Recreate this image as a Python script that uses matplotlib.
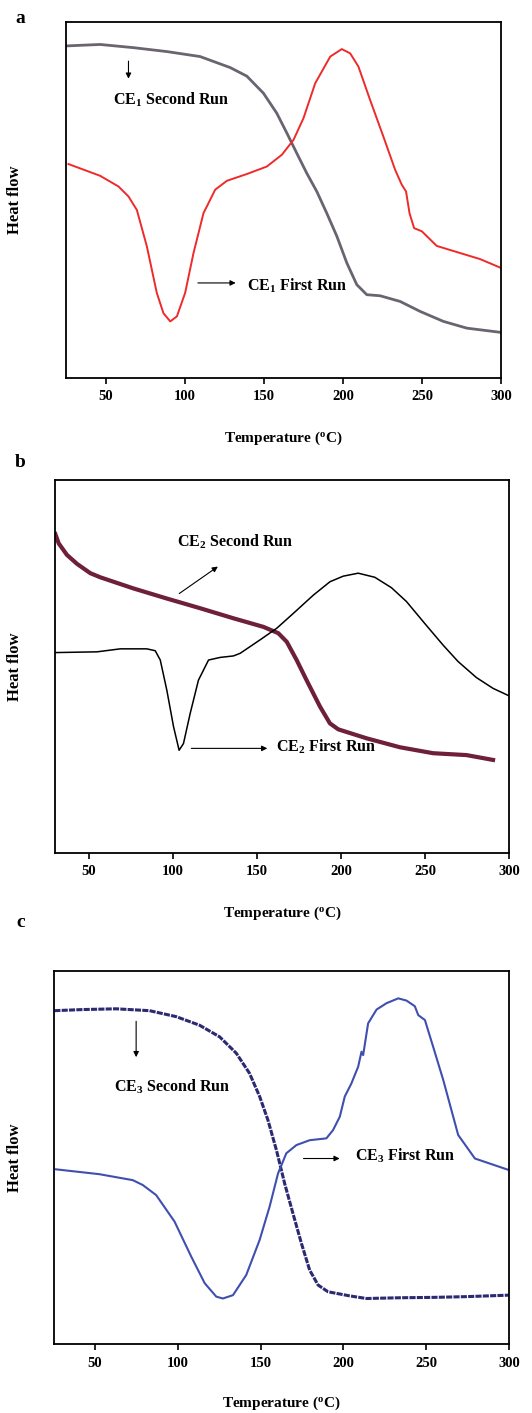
import matplotlib
matplotlib.use("Agg")
import matplotlib.pyplot as plt

plt.rcParams['font.family'] = ['Liberation Serif', 'DejaVu Serif']
plt.rcParams['font.weight'] = 'bold'
plt.rcParams['mathtext.fontset'] = 'custom'
plt.rcParams['mathtext.rm'] = 'Liberation Serif:bold'
plt.rcParams['mathtext.it'] = 'Liberation Serif:bold:italic'
plt.rcParams['mathtext.bf'] = 'Liberation Serif:bold'

# ---------------- Panel a (CE1) ----------------
a_first_T = [26.6, 46.6, 58.2, 64.5, 69.8, 76.1, 82.4, 86.6, 90.9, 95.1, 100.3, 105.6, 111.9,
             119.3, 126.7, 139.3, 151.9, 161.4, 168.8, 175.1, 182.5, 192.0, 199.3, 204.6, 209.8,
             217.2, 225.6, 233.0, 237.2, 239.9, 242.1, 245.0, 249.9, 259.3, 274.1, 286.7, 300.0]
a_first_H = [0.601, 0.568, 0.538, 0.510, 0.472, 0.370, 0.239, 0.182, 0.159, 0.173, 0.239, 0.351, 0.463,
             0.529, 0.554, 0.573, 0.594, 0.627, 0.669, 0.730, 0.828, 0.903, 0.924, 0.912, 0.875,
             0.781, 0.678, 0.585, 0.543, 0.524, 0.463, 0.421, 0.412, 0.371, 0.351, 0.334, 0.309]
a_second_T = [25.6, 46.6, 67.7, 88.8, 109.8, 128.8, 139.3, 149.8, 158.2, 164.6, 170.9, 177.2,
              183.5, 189.8, 196.2, 202.5, 208.8, 215.1, 223.5, 236.2, 248.8, 263.5, 278.3, 300.0]
a_second_H = [0.933, 0.937, 0.928, 0.917, 0.903, 0.872, 0.848, 0.800, 0.744, 0.688, 0.631, 0.575,
              0.524, 0.463, 0.398, 0.323, 0.262, 0.234, 0.231, 0.215, 0.187, 0.159, 0.140, 0.128]

# ---------------- Panel b (CE2) ----------------
b_first_T = [30.2, 55.0, 68.8, 84.6, 89.6, 92.6, 96.5, 100.5, 103.8, 106.4, 110.4, 115.3, 121.3,
             128.2, 136.1, 140.1, 151.9, 161.8, 171.7, 183.6, 193.5, 201.4, 210.3, 220.2, 230.1,
             239.0, 249.9, 260.8, 269.7, 280.6, 290.5, 300.0]
b_first_H = [0.537, 0.539, 0.547, 0.547, 0.542, 0.517, 0.436, 0.338, 0.275, 0.293, 0.374, 0.463, 0.517,
             0.524, 0.528, 0.535, 0.571, 0.602, 0.642, 0.691, 0.727, 0.742, 0.750, 0.739, 0.711,
             0.674, 0.615, 0.557, 0.513, 0.470, 0.441, 0.421]
b_second_T = [30.2, 32.2, 37.1, 43.1, 51.0, 56.9, 76.7, 96.5, 116.3, 136.1, 153.9, 162.8, 167.8,
              173.7, 179.6, 187.6, 193.5, 198.5, 215.3, 235.1, 254.9, 274.7, 290.5]
b_second_H = [0.855, 0.830, 0.799, 0.775, 0.750, 0.739, 0.709, 0.682, 0.656, 0.629, 0.606, 0.589, 0.566,
              0.517, 0.463, 0.392, 0.347, 0.331, 0.307, 0.283, 0.267, 0.262, 0.249]

# ---------------- Panel c (CE3) ----------------
c_first_T = [26.4, 52.6, 72.8, 78.8, 86.9, 98.0, 108.1, 116.2, 123.2, 127.2, 133.3, 141.3, 149.4,
             155.4, 160.5, 165.5, 171.6, 179.6, 189.7, 193.7, 197.8, 200.8, 204.8, 208.9, 210.9,
             211.9, 214.9, 220.0, 226.0, 233.1, 238.1, 243.1, 245.2, 249.2, 254.2, 260.3, 269.3,
             279.4, 300.0]
c_first_H = [0.468, 0.455, 0.439, 0.426, 0.399, 0.328, 0.234, 0.163, 0.127, 0.122, 0.131, 0.185, 0.279,
             0.368, 0.457, 0.511, 0.533, 0.546, 0.551, 0.573, 0.609, 0.663, 0.698, 0.743, 0.783,
             0.774, 0.859, 0.896, 0.913, 0.926, 0.920, 0.905, 0.881, 0.868, 0.796, 0.707, 0.560,
             0.497, 0.466]
c_second_T = [25.4, 42.5, 62.7, 82.9, 99.0, 113.1, 125.2, 135.3, 143.3, 149.4, 154.4, 159.5, 164.5,
              169.5, 174.6, 179.6, 184.7, 190.7, 203.8, 213.9, 234.1, 254.2, 274.4, 300.0]
c_second_H = [0.893, 0.896, 0.898, 0.893, 0.877, 0.854, 0.823, 0.779, 0.725, 0.663, 0.600, 0.520, 0.430,
              0.350, 0.270, 0.198, 0.158, 0.140, 0.129, 0.122, 0.124, 0.125, 0.127, 0.131]

ticks = [50, 100, 150, 200, 250, 300]

fig = plt.figure(figsize=(5.32, 14.13), dpi=100)

def style_axes(ax, xmin):
    ax.set_xlim(xmin, 300)
    ax.set_ylim(0, 1)
    ax.set_yticks([])
    ax.set_xticks(ticks)
    ax.set_xticklabels([str(t) for t in ticks], fontsize=10.5, fontweight='bold')
    ax.tick_params(axis='x', direction='out', length=4, width=1.2, pad=5)
    for s in ax.spines.values():
        s.set_linewidth(1.3)
    ax.set_ylabel('Heat flow', fontsize=12, fontweight='bold')
    ax.set_xlabel(r'Temperature ($^{\mathrm{o}}$C)', fontsize=11, fontweight='bold', labelpad=19)

arrow_kw = dict(arrowstyle='-|>', color='black', lw=0.8, mutation_scale=8)

# Panel a
axa = fig.add_axes([0.124, 0.7325, 0.818, 0.2519])
style_axes(axa, 25)
axa.plot(a_second_T, a_second_H, color='#6a6470', lw=2.0)
axa.plot(a_first_T, a_first_H, color='#ee2a2a', lw=1.4)
axa.annotate('', xy=(64.5, 0.833), xytext=(64.5, 0.898), arrowprops=arrow_kw)
axa.text(55, 0.781, r'CE$_{1}$ Second Run', fontsize=11.5, fontweight='bold', va='center')
axa.annotate('', xy=(134, 0.267), xytext=(106.6, 0.267), arrowprops=arrow_kw)
axa.text(139.3, 0.259, r'CE$_{1}$ First Run', fontsize=11.5, fontweight='bold', va='center')
axa.yaxis.set_label_coords(-0.098, 0.5)
fig.text(0.038, 0.987, 'a', fontsize=14, fontweight='bold', ha='center', va='center')

# Panel b
axb = fig.add_axes([0.1034, 0.3965, 0.8534, 0.2638])
style_axes(axb, 30)
axb.plot(b_second_T, b_second_H, color='#6e1f3a', lw=3.0)
axb.plot(b_first_T, b_first_H, color='black', lw=1.1)
axb.annotate('', xy=(128.2, 0.772), xytext=(102.5, 0.691), arrowprops=arrow_kw)
axb.text(102.5, 0.835, r'CE$_{2}$ Second Run', fontsize=11.5, fontweight='bold', va='center')
axb.annotate('', xy=(157.9, 0.28), xytext=(109.4, 0.28), arrowprops=arrow_kw)
axb.text(161.4, 0.283, r'CE$_{2}$ First Run', fontsize=11.5, fontweight='bold', va='center')
axb.yaxis.set_label_coords(-0.070, 0.5)
fig.text(0.038, 0.673, 'b', fontsize=14, fontweight='bold', ha='center', va='center')

# Panel c
axc = fig.add_axes([0.1009, 0.0488, 0.8559, 0.2642])
style_axes(axc, 25)
axc.xaxis.labelpad = 18
axc.plot(c_second_T, c_second_H, color='#2b2a70', lw=2.2, linestyle=(0, (2.0, 0.4)))
axc.plot(c_first_T, c_first_H, color='#3f4fb0', lw=1.5)
axc.annotate('', xy=(74.8, 0.761), xytext=(74.8, 0.872), arrowprops=arrow_kw)
axc.text(61.3, 0.689, r'CE$_{3}$ Second Run', fontsize=11.5, fontweight='bold', va='center')
axc.annotate('', xy=(199.4, 0.497), xytext=(174.2, 0.497), arrowprops=arrow_kw)
axc.text(206.8, 0.504, r'CE$_{3}$ First Run', fontsize=11.5, fontweight='bold', va='center')
axc.yaxis.set_label_coords(-0.067, 0.5)
fig.text(0.038, 0.347, 'c', fontsize=14, fontweight='bold', ha='center', va='center')

fig.savefig('out.png', dpi=100)
